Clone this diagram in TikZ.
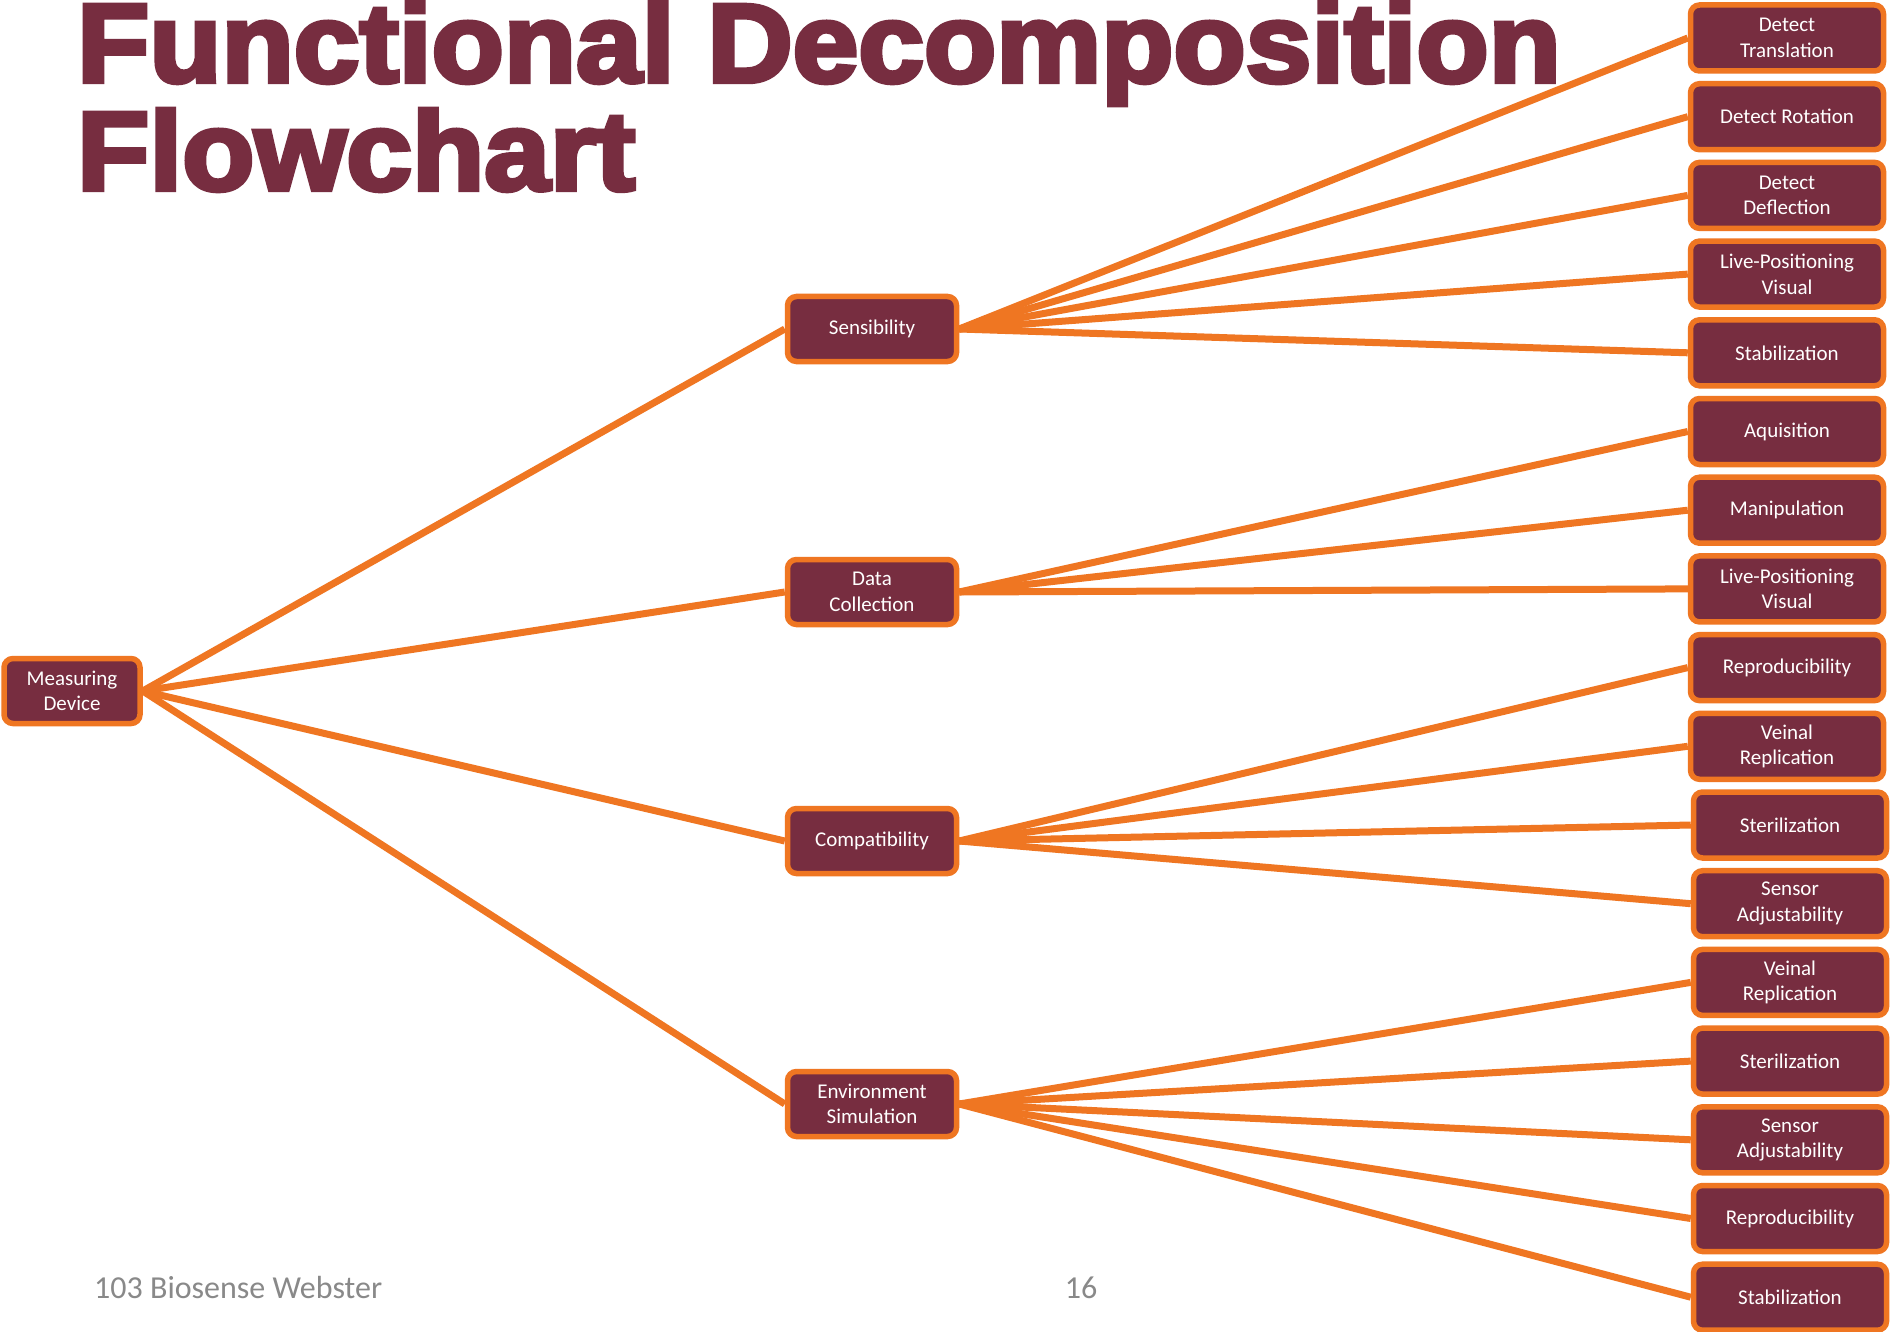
\documentclass[tikz,border=0pt]{standalone}
\usepackage{fontspec}
\setmainfont{Carlito}
\newfontfamily\titlefont[FakeBold=4]{Liberation Sans Bold}
\usetikzlibrary{backgrounds}
\definecolor{maroon}{HTML}{772D40}
\definecolor{orng}{HTML}{EF7622}
\definecolor{foot}{HTML}{898989}
\begin{document}
\begin{tikzpicture}[x=1pt,y=-1pt,
  box/.style={draw=orng, line width=5.5pt, fill=maroon, rounded corners=9pt, text=white,
    font=\fontsize{21}{25.5}\selectfont, align=center, inner sep=0pt},
  leaf/.style={box, minimum width=193pt, minimum height=66pt},
  mid/.style={box, minimum width=169pt, minimum height=65pt},
  link/.style={draw=orng, line width=7pt},
  titletext/.style={anchor=base west, inner sep=0pt, text=maroon,
    font=\titlefont\fontsize{112}{112}\selectfont},
  foottext/.style={inner sep=0pt, text=foot, font=\fontsize{32}{36}\selectfont}]
\useasboundingbox (0,0) rectangle (1890,1332);

\node[titletext] (t1) at (77,82) {\scalebox{1.055}[1]{Functional Decomposition}};
\node[titletext] (t2) at (77,190) {\scalebox{1.055}[1]{Flowchart}};

\node[foottext, anchor=base west] (f1) at (94,1298) {103 Biosense Webster};
\node[foottext, anchor=base] (f2) at (1081,1298) {16};

\node[box, minimum width=136pt, minimum height=65pt] (md) at (72,691) {Measuring\\Device};

\node[mid] (sens) at (872,329) {Sensibility};
\node[mid] (dc) at (872,592) {Data\\Collection};
\node[mid] (comp) at (872,841) {Compatibility};
\node[mid] (env) at (872,1104) {Environment\\Simulation};

\node[leaf] (l0) at (1787,38) {Detect\\Translation};
\node[leaf] (l1) at (1787,116.7) {Detect Rotation};
\node[leaf] (l2) at (1787,195.4) {Detect\\Deflection};
\node[leaf] (l3) at (1787,274.1) {Live-Positioning\\Visual};
\node[leaf] (l4) at (1787,352.8) {Stabilization};
\node[leaf] (l5) at (1787,431.5) {Aquisition};
\node[leaf] (l6) at (1787,510.2) {Manipulation};
\node[leaf] (l7) at (1787,588.9) {Live-Positioning\\Visual};
\node[leaf] (l8) at (1787,667.6) {Reproducibility};
\node[leaf] (l9) at (1787,746.3) {Veinal\\Replication};
\node[leaf] (l10) at (1790,825) {Sterilization};
\node[leaf] (l11) at (1790,903.7) {Sensor\\Adjustability};
\node[leaf] (l12) at (1790,982.4) {Veinal\\Replication};
\node[leaf] (l13) at (1790,1061.1) {Sterilization};
\node[leaf] (l14) at (1790,1139.8) {Sensor\\Adjustability};
\node[leaf] (l15) at (1790,1218.5) {Reproducibility};
\node[leaf] (l16) at (1790,1297.2) {Stabilization};

\begin{scope}[on background layer]
  \fill[white] (0,0) rectangle (1890,1332);
  \foreach \m in {sens,dc,comp,env} \draw[link] (md.east) -- (\m.west);
  \foreach \l in {l0,l1,l2,l3,l4} \draw[link] (sens.east) -- (\l.west);
  \foreach \l in {l5,l6,l7} \draw[link] (dc.east) -- (\l.west);
  \foreach \l in {l8,l9,l10,l11} \draw[link] (comp.east) -- (\l.west);
  \foreach \l in {l12,l13,l14,l15,l16} \draw[link] (env.east) -- (\l.west);
\end{scope}
\end{tikzpicture}
\end{document}
